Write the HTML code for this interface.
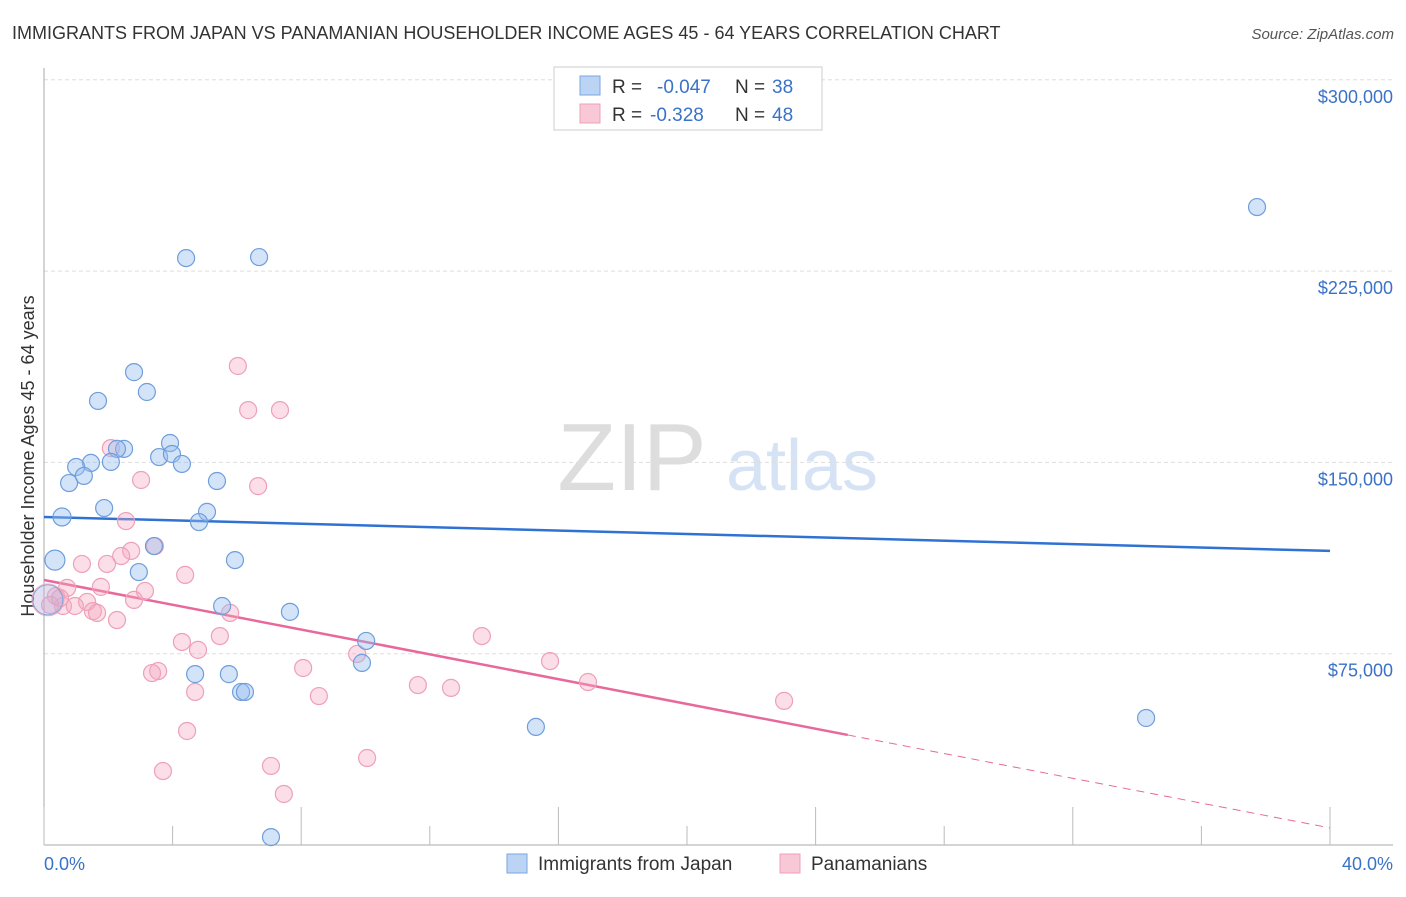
<!DOCTYPE html>
<html><head><meta charset="utf-8"><style>
body{margin:0;background:#fff;font-family:"Liberation Sans",sans-serif;}
svg text{font-family:"Liberation Sans",sans-serif;}
</style></head><body>
<svg width="1406" height="892" viewBox="0 0 1406 892">
<text x="12" y="39" font-size="18" fill="#333">IMMIGRANTS FROM JAPAN VS PANAMANIAN HOUSEHOLDER INCOME AGES 45 - 64 YEARS CORRELATION CHART</text>
<text x="1394" y="39" font-size="15" fill="#555" font-style="italic" text-anchor="end">Source: ZipAtlas.com</text>
<g>
<text x="632" y="490" font-size="96" fill="#ddd" font-family="Liberation Serif" text-anchor="middle">ZIP</text>
<text x="802" y="490" font-size="72" fill="#d5e3f5" text-anchor="middle">atlas</text>
</g>
<g id="grid"></g>
<g id="axes"></g>
<text transform="translate(34,456) rotate(-90)" font-size="18" fill="#333" text-anchor="middle">Householder Income Ages 45 - 64 years</text>
<text x="44" y="870" font-size="18" fill="#3a72c8">0.0%</text>
<text x="1393" y="870" font-size="18" fill="#3a72c8" text-anchor="end">40.0%</text>
<g id="lines"></g>
<g id="pts"></g>
<g>
<rect x="554" y="67" width="268" height="63" fill="#fff" stroke="#ccc"/>
<rect x="580" y="76" width="20" height="19" fill="#bcd4f3" stroke="#7aa6e0"/>
<rect x="580" y="104" width="20" height="19" fill="#f9c8d6" stroke="#eea0b8"/>
<text y="93" font-size="19" fill="#333"><tspan x="612">R =</tspan><tspan x="657" fill="#3a72c8">-0.047</tspan><tspan x="735">N =</tspan><tspan x="772" fill="#3a72c8">38</tspan></text>
<text y="121" font-size="19" fill="#333"><tspan x="612">R =</tspan><tspan x="650" fill="#3a72c8">-0.328</tspan><tspan x="735">N =</tspan><tspan x="772" fill="#3a72c8">48</tspan></text>
</g>
<g>
<rect x="507" y="854" width="20" height="19" fill="#bcd4f3" stroke="#7aa6e0"/>
<text x="538" y="870" font-size="19" fill="#333">Immigrants from Japan</text>
<rect x="780" y="854" width="20" height="19" fill="#f9c8d6" stroke="#eea0b8"/>
<text x="811" y="870" font-size="19" fill="#333">Panamanians</text>
</g>
</svg>
<script>
const yTicks=[75000,150000,225000,300000];
const yTickLabels=["$75,000","$150,000","$225,000","$300,000"];
const xTicks=[0,4,8,12,16,20,24,28,32,36,40];
const japanX=[4.42,6.69,37.73,2.80,3.20,1.68,3.92,2.49,2.27,3.58,3.98,2.08,1.46,1.00,4.29,1.24,0.78,5.38,1.87,5.07,0.56,4.82,3.42,0.34,5.94,2.95,5.54,7.65,10.02,9.89,4.70,5.75,6.13,6.25,15.30,34.28,7.06,0.12];
const japanY=[230100,230500,250100,185400,177600,174100,157600,155300,155300,152100,153300,150200,149800,148200,149400,144700,141900,142700,132100,130600,128600,126600,117200,111700,111700,107000,93700,91400,80000,71400,67000,67000,60000,60000,46300,49800,3100,96100];
const japanR=[8.5,8.5,8.5,8.5,8.5,8.5,8.5,8.5,8.5,8.5,8.5,8.5,8.5,8.5,8.5,8.5,8.5,8.5,8.5,8.5,9,8.5,8.5,10,8.5,8.5,8.5,8.5,8.5,8.5,8.5,8.5,8.5,8.5,8.5,8.5,8.5,15];
const panX=[6.03,6.35,7.34,2.08,3.02,6.66,2.55,3.45,2.71,2.40,1.18,1.96,4.39,0.72,1.77,3.14,0.37,1.34,2.80,0.59,0.96,1.52,1.65,5.79,2.27,5.47,4.29,13.62,4.79,9.74,8.06,15.74,3.55,3.36,16.92,11.63,12.66,4.70,8.55,23.02,4.45,10.05,3.70,7.06,7.46,0.12,0.19,0.50];
const panY=[187800,170500,170500,155600,143100,140700,127000,117200,115300,113300,110200,110200,105900,100800,101200,99600,97600,95300,96100,93700,93700,91700,91000,91000,88200,81900,79600,81900,76500,74900,69400,72100,68200,67400,63900,62700,61600,60000,58400,56500,44700,34100,29000,31000,20000,96100,94100,96800];
const japanTrend=[128600,115300];
const panTrend=[103900,6700];
const panSolidEnd=25;
const NS="http://www.w3.org/2000/svg";
const X=p=>44+p/40*1286;
const Y=v=>845-v*191.3/75000;
function mk(tag,at,parent){const e=document.createElementNS(NS,tag);for(const k in at)e.setAttribute(k,at[k]);document.getElementById(parent).appendChild(e);return e;}
yTicks.forEach((t,i)=>{
 const g=mk('line',{x1:44,x2:1393,y1:Y(t),y2:Y(t),stroke:'#ddd','stroke-dasharray':'4,3'},'grid');
 
 
 const tx=mk('text',{x:1393,y:Y(t)+23,'font-size':18,fill:'#3a72c8','text-anchor':'end'},'grid');
 tx.textContent=yTickLabels[i];
 
 
});
const ax=mk('line',{x1:44,x2:44,y1:68,y2:845,stroke:'#aaa'},'axes');


const bx=mk('line',{x1:44,x2:1393,y1:845,y2:845,stroke:'#aaa'},'axes');


xTicks.forEach((t,i)=>{
 const tk=mk('line',{x1:X(t),x2:X(t),y1:(i%2?826:807),y2:845,stroke:'#bbb'},'axes');
 
 
});
function pts(xs,ys,rs,fill,stroke,name){
 xs.forEach((x,i)=>{
  const big=rs[i]>12;
  const c=mk('circle',{cx:X(x),cy:Y(ys[i]),r:rs[i],fill:fill,stroke:stroke,'stroke-width':big?0.8:1.2,'fill-opacity':big?0.6:1},'pts');
  
  
 });
}
const panR=panX.map((_,i)=>i==45?16:8.5);
pts(panX,panY,panR,'rgba(245,168,192,0.38)','#eea0b8','panamanian-point');
pts(japanX,japanY,japanR,'rgba(150,188,238,0.42)','#6f9edb','japan-point');
const jl=mk('line',{x1:X(0),y1:Y(japanTrend[0]),x2:X(40),y2:Y(japanTrend[1]),stroke:'#2f72d4','stroke-width':2.5},'lines');


const py=p=>panTrend[0]+(panTrend[1]-panTrend[0])*p/40;
const pl=mk('line',{x1:X(0),y1:Y(panTrend[0]),x2:X(panSolidEnd),y2:Y(py(panSolidEnd)),stroke:'#e8689a','stroke-width':2.5},'lines');


const pd=mk('line',{x1:X(panSolidEnd),y1:Y(py(panSolidEnd)),x2:X(40),y2:Y(panTrend[1]),stroke:'#e8689a','stroke-width':1,'stroke-dasharray':'8,6'},'lines');


</script>
</body></html>
